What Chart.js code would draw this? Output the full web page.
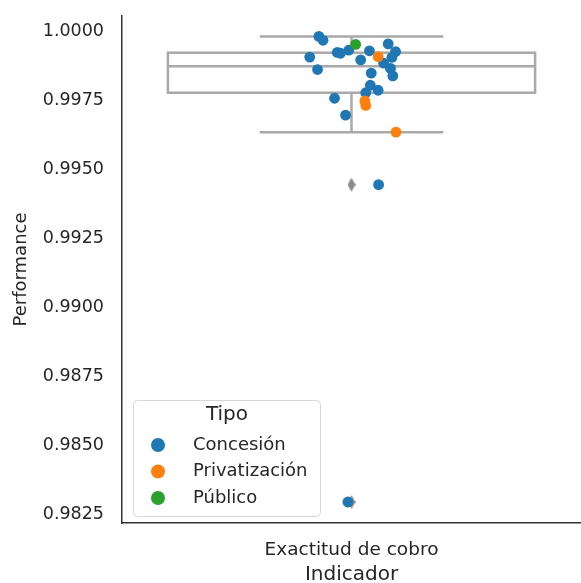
<!DOCTYPE html>
<html>
<head>
    <title>Exactitud de cobro</title>
    <script src="https://cdn.jsdelivr.net/npm/chart.js@4.4.0/dist/chart.umd.min.js"></script>
    <style>
        body { margin: 0; background: #fff; }
    </style>
</head>
<body>
<canvas id="chart" width="581" height="583"></canvas>
<script>
    // category and axis ticks
    const category = 'Exactitud de cobro';
    const yTicks = [0.9825, 0.9850, 0.9875, 0.9900, 0.9925, 0.9950, 0.9975, 1.0000];

    // box stats
    const boxStats = [0.99630, 0.99773, 0.99869, 0.99918, 0.99977]; // low whisker, q1, median, q3, high whisker
    const fliers = [0.99440, 0.98290];

    // strip points per Tipo (jitter offset inside the category, value)
    const concesionJitter = [-0.071, -0.062, 0.080, 0.096, 0.039, -0.006, -0.031, -0.024, -0.091, 0.088,
        0.020, 0.070, 0.085, -0.074, 0.043, 0.090, 0.041, 0.058, 0.031, -0.037, -0.013, 0.059, -0.008];
    const concesionValues = [0.99977, 0.99963, 0.99950, 0.99922, 0.99925, 0.99927, 0.99919, 0.99916, 0.99902, 0.99901,
        0.99892, 0.99880, 0.99861, 0.99857, 0.99844, 0.99834, 0.99800, 0.99782, 0.99773, 0.99753, 0.99692, 0.99440, 0.98290];
    const privatizacionJitter = [0.058, 0.029, 0.031, 0.097];
    const privatizacionValues = [0.99904, 0.99743, 0.99727, 0.99630];
    const publicoJitter = [0.009];
    const publicoValues = [0.99948];

    const tipos = ['Concesión', 'Privatización', 'Público'];
    const colors = ['#1f77b4', '#ff7f0e', '#2ca02c'];

    function pts(jit, vals) {
        return vals.map((v, i) => ({ x: jit[i], y: v }));
    }

    const textColor = '#262626';
    const boxColor = '#a9a9a9';

    // thin diamond marker for the fliers
    const diamond = document.createElement('canvas');
    diamond.width = 8; diamond.height = 14;
    (function () {
        const c = diamond.getContext('2d');
        c.fillStyle = '#8a8a8a';
        c.beginPath();
        c.moveTo(4, 0); c.lineTo(8, 7); c.lineTo(4, 14); c.lineTo(0, 7);
        c.closePath();
        c.fill();
    })();

    const boxPlugin = {
        id: 'boxPlugin',
        beforeDatasetsDraw(chart) {
            const ctx = chart.ctx;
            const xs = chart.scales.x, ys = chart.scales.y;
            const [lo, q1, med, q3, hi] = boxStats.map(v => ys.getPixelForValue(v));
            const bl = xs.getPixelForValue(-0.4), br = xs.getPixelForValue(0.4);
            const cl = xs.getPixelForValue(-0.2), cr = xs.getPixelForValue(0.2);
            const cx = xs.getPixelForValue(0);
            ctx.save();
            ctx.strokeStyle = boxColor;
            ctx.lineWidth = 2.5;
            // whiskers
            ctx.beginPath();
            ctx.moveTo(cx, q3); ctx.lineTo(cx, hi);
            ctx.moveTo(cx, q1); ctx.lineTo(cx, lo);
            ctx.moveTo(cl, hi); ctx.lineTo(cr, hi);
            ctx.moveTo(cl, lo); ctx.lineTo(cr, lo);
            ctx.stroke();
            // box
            ctx.fillStyle = '#ffffff';
            ctx.fillRect(bl, q3, br - bl, q1 - q3);
            ctx.strokeRect(bl, q3, br - bl, q1 - q3);
            ctx.beginPath();
            ctx.moveTo(bl, med); ctx.lineTo(br, med);
            ctx.stroke();
            ctx.restore();
        }
    };

    const legendPlugin = {
        id: 'tipoLegend',
        afterDraw(chart) {
            const ctx = chart.ctx;
            const x0 = 133.5, y0 = 400.5, w = 187, h = 116;
            ctx.save();
            ctx.beginPath();
            ctx.roundRect(x0, y0, w, h, 4);
            ctx.fillStyle = 'rgba(255,255,255,0.8)';
            ctx.fill();
            ctx.strokeStyle = '#d6d6d6';
            ctx.lineWidth = 1;
            ctx.stroke();
            ctx.fillStyle = textColor;
            ctx.textBaseline = 'middle';
            ctx.textAlign = 'center';
            ctx.font = '20px "DejaVu Sans"';
            ctx.fillText('Tipo', 227, 415);
            ctx.textAlign = 'left';
            ctx.font = '18px "DejaVu Sans"';
            tipos.forEach((t, i) => {
                const y = 445 + i * 26.5;
                ctx.beginPath();
                ctx.arc(158, y, 7, 0, Math.PI * 2);
                ctx.fillStyle = colors[i];
                ctx.fill();
                ctx.fillStyle = textColor;
                ctx.fillText(t, 193, y);
            });
            ctx.restore();
        }
    };

    new Chart(document.getElementById('chart'), {
        type: 'scatter',
        data: {
            datasets: [
                { label: tipos[0], data: pts(concesionJitter, concesionValues), backgroundColor: colors[0], order: 3 },
                { label: tipos[1], data: pts(privatizacionJitter, privatizacionValues), backgroundColor: colors[1], order: 2 },
                { label: tipos[2], data: pts(publicoJitter, publicoValues), backgroundColor: colors[2], order: 1 },
                {
                    label: 'fliers', data: fliers.map(v => ({ x: 0, y: v })),
                    pointStyle: diamond, order: 4
                }
            ]
        },
        options: {
            responsive: false,
            animation: false,
            devicePixelRatio: 1,
            layout: { autoPadding: false, padding: { top: 16, right: 0, left: 0, bottom: 0 } },
            elements: { point: { radius: 5.4, borderWidth: 0, hoverRadius: 5.4 } },
            plugins: { legend: { display: false }, tooltip: { enabled: false } },
            scales: {
                x: {
                    type: 'linear', min: -0.5, max: 0.5,
                    grid: { display: false, drawTicks: false },
                    border: { display: true, color: '#333333', width: 1.5 },
                    afterBuildTicks: s => { s.ticks = [{ value: 0 }]; },
                    afterFit: s => { s.height = 60; s.paddingLeft = 0; s.paddingRight = 0; },
                    ticks: {
                        padding: 16, color: textColor, maxRotation: 0,
                        font: { family: 'DejaVu Sans', size: 18.5 },
                        callback: () => category
                    },
                    title: {
                        display: true, text: 'Indicador', color: textColor,
                        font: { family: 'DejaVu Sans', size: 20 }, padding: { top: 0, bottom: -4 }
                    }
                },
                y: {
                    min: 0.98214, max: 1.00051,
                    grid: { display: false, drawTicks: false },
                    border: { display: true, color: '#333333', width: 1.5 },
                    afterBuildTicks: s => { s.ticks = yTicks.map(v => ({ value: v })); },
                    afterFit: s => { s.width = 122; s.paddingTop = 0; s.paddingBottom = 0; },
                    ticks: {
                        padding: 18, color: textColor, labelOffset: 1,
                        font: { family: 'DejaVu Sans', size: 17.5 },
                        callback: v => v.toFixed(4)
                    },
                    title: {
                        display: true, text: 'Performance', color: textColor,
                        font: { family: 'DejaVu Sans', size: 18 }, padding: { top: 11, bottom: 0 }
                    }
                }
            }
        },
        plugins: [boxPlugin, legendPlugin]
    });
</script>
</body>
</html>
